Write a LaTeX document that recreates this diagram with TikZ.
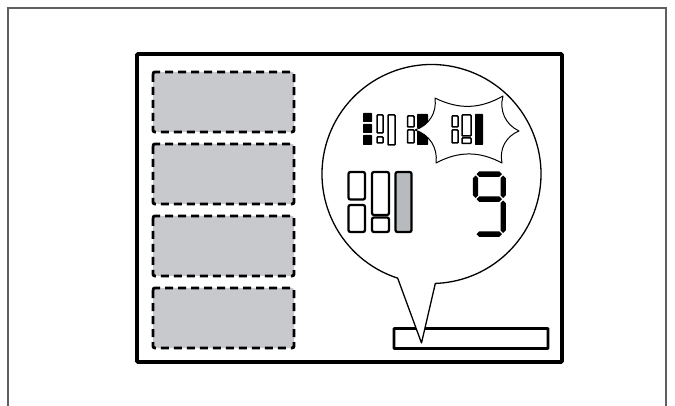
\documentclass[tikz,border=0pt]{standalone}
\usepackage{tikz}
\usetikzlibrary{positioning}
\definecolor{slotgray}{RGB}{199,201,204}
\definecolor{bargray}{RGB}{184,187,190}
\definecolor{framegray}{RGB}{95,95,95}
\tikzset{
	slotbox/.style={draw, fill=slotgray, line width=2.9pt, dash pattern=on 8pt off 5pt, rounded corners=2pt}
}
\tikzset{
	iconbox/.style={draw, line width=1.5pt, rounded corners=0.8pt},
	bigbox/.style={draw, line width=2.3pt, rounded corners=2pt},
	bubble/.style={draw, fill=white, line width=1.3pt, line join=round}
}
\newcommand{\segh}[3]{\fill (#1,#3) -- ({#1+2.7},{#3-2.7}) -- ({#2-2.7},{#3-2.7}) -- (#2,#3) -- ({#2-2.7},{#3+2.7}) -- ({#1+2.7},{#3+2.7}) -- cycle;}
\newcommand{\segv}[3]{\fill (#1,#2) -- ({#1+2.7},{#2+2.7}) -- ({#1+2.7},{#3-2.7}) -- (#1,#3) -- ({#1-2.7},{#3-2.7}) -- ({#1-2.7},{#2+2.7}) -- cycle;}

\begin{document}
\begin{tikzpicture}[x=1pt,y=-1pt]
  \useasboundingbox (0,0) rectangle (675,406);
  \draw[framegray, line width=1.2pt] (8,406) -- (8,8) -- (666,8) -- (666,406);
  \draw[line width=3.8pt, rounded corners=1pt] (137,54) rectangle (562,362);
  \foreach \y in {72,144,216,288}
    \draw[slotbox] (153,\y) rectangle (294,\y+60);
  \draw[line width=2.8pt, rounded corners=0.5pt] (394,328.5) rectangle (548,348.5);
  \coordinate (bc) at (431.5,174);
  \coordinate (tip) at (421.5,343);
  \draw[bubble] (tip) -- ([shift={(252:109.5pt)}]bc) arc[start angle=252, end angle=-88, radius=109.5pt] -- cycle;
  \foreach \y/\h in {113/122,124/133,135/145}
    \fill[rounded corners=0.6pt] (363,\y) rectangle (372,\h);
  \draw[iconbox] (377,115) rectangle (383,133);
  \draw[iconbox] (377,137) rectangle (383,143);
  \draw[iconbox] (388,115) rectangle (395,145);
  \draw[iconbox] (407.5,116) rectangle (414,127);
  \draw[iconbox] (407.5,130) rectangle (414,143);
  \fill[rounded corners=0.6pt] (417,114) rectangle (428,128);
  \fill[rounded corners=0.6pt] (417,130) rectangle (428,145);
  \draw[bubble, line width=1pt] (415,130) to[bend right=40] (435,98) to[bend right=28] (503,96)
    to[bend right=40] (519,131) to[bend right=40] (502,163) to[bend right=28] (436,163)
    to[bend right=40] (415,130);
  \draw[iconbox] (452,116) rectangle (458,127);
  \draw[iconbox] (452,130) rectangle (458,143);
  \draw[iconbox] (462,115) rectangle (471,136);
  \draw[iconbox] (462,138) rectangle (471,143.5);
  \fill[rounded corners=0.6pt] (475,114) rectangle (483,145);
  \draw[bigbox] (348.5,172) rectangle (365,199.5);
  \draw[bigbox] (348.5,205) rectangle (365,232);
  \draw[bigbox] (372,172) rectangle (389,215);
  \draw[bigbox] (372,217.5) rectangle (389,232);
  \draw[bigbox, fill=bargray] (395.5,172) rectangle (411.5,232);
  \segh{476.5}{502}{174.2}
  \segv{475.5}{175.5}{198}
  \segv{503.2}{175.5}{198}
  \segh{476.5}{502}{199.2}
  \segv{503.2}{200.5}{233}
  \segh{476.5}{502}{234.2}
\end{tikzpicture}
\end{document}
